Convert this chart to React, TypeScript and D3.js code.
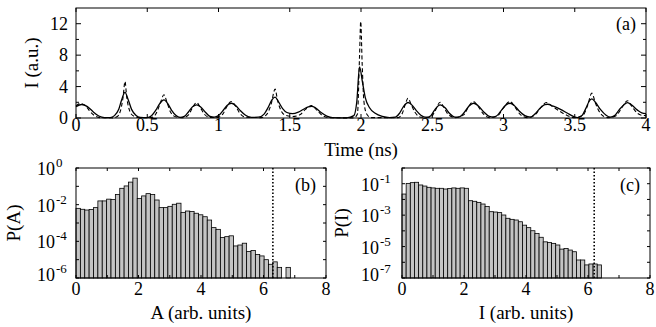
import React from 'react';
import * as d3 from 'd3';

// ---- panel (a): intensity time trace, [time (ns), I (a.u.)] ----
const solidTrace: [number, number][] = [
  [0.0, 1.45], [0.04, 1.72], [0.08, 1.45], [0.12, 0.8], [0.16, 0.25], [0.2, 0.05], [0.24, 0.05],
  [0.27, 0.3], [0.3, 1.1], [0.32, 2.3], [0.344, 3.25], [0.365, 2.4], [0.39, 1.1], [0.42, 0.35],
  [0.45, 0.08], [0.5, 0.05], [0.53, 0.3], [0.56, 1.0], [0.59, 1.9], [0.617, 2.3], [0.645, 1.8],
  [0.67, 1.0], [0.7, 0.35], [0.73, 0.08], [0.76, 0.2], [0.79, 0.8], [0.82, 1.45], [0.847, 1.68],
  [0.875, 1.4], [0.91, 0.7], [0.94, 0.2], [0.97, 0.1], [1.0, 0.3], [1.03, 0.9], [1.06, 1.6],
  [1.09, 1.88], [1.12, 1.6], [1.15, 1.0], [1.19, 0.35], [1.23, 0.08], [1.28, 0.1], [1.32, 0.5],
  [1.35, 1.4], [1.375, 2.3], [1.397, 2.65], [1.42, 2.1], [1.45, 1.2], [1.48, 0.7], [1.52, 0.55],
  [1.56, 0.75], [1.6, 1.15], [1.63, 1.42], [1.654, 1.48], [1.68, 1.3], [1.72, 0.7], [1.76, 0.25],
  [1.8, 0.05], [1.9, 0.02], [1.95, 0.3], [1.97, 2.0], [1.99, 6.5], [2.01, 4.6], [2.03, 2.6],
  [2.06, 1.3], [2.1, 0.6], [2.15, 0.2], [2.2, 0.05], [2.24, 0.1], [2.27, 0.6], [2.3, 1.5],
  [2.33, 1.97], [2.36, 1.6], [2.39, 0.9], [2.42, 0.35], [2.46, 0.08], [2.49, 0.3], [2.52, 1.1],
  [2.555, 1.67], [2.59, 1.3], [2.62, 0.6], [2.66, 0.1], [2.69, 0.15], [2.72, 0.6], [2.76, 1.55],
  [2.79, 1.88], [2.82, 1.6], [2.86, 0.8], [2.9, 0.2], [2.93, 0.1], [2.96, 0.4], [2.99, 1.1],
  [3.02, 1.7], [3.046, 1.88], [3.075, 1.6], [3.11, 0.9], [3.15, 0.3], [3.19, 0.1], [3.22, 0.5],
  [3.26, 1.3], [3.29, 1.7], [3.31, 1.75], [3.35, 1.5], [3.4, 1.1], [3.45, 0.6], [3.49, 0.2],
  [3.52, 0.05], [3.55, 0.3], [3.58, 1.3], [3.6, 2.1], [3.62, 2.43], [3.645, 2.0], [3.68, 1.1],
  [3.72, 0.35], [3.75, 0.1], [3.78, 0.3], [3.81, 1.0], [3.845, 1.7], [3.87, 1.95], [3.9, 1.65],
  [3.94, 1.0], [3.97, 0.65], [4.0, 0.55],
];

const dashedTrace: [number, number][] = [
  [0.0, 1.55], [0.03, 1.85], [0.07, 1.5], [0.1, 0.8], [0.13, 0.3], [0.17, 0.05], [0.26, 0.02],
  [0.29, 0.2], [0.31, 0.8], [0.33, 2.6], [0.344, 4.66], [0.355, 2.8], [0.375, 1.0], [0.4, 0.3],
  [0.44, 0.05], [0.53, 0.05], [0.56, 0.5], [0.59, 1.8], [0.617, 2.95], [0.64, 1.9], [0.665, 0.7],
  [0.7, 0.15], [0.75, 0.05], [0.79, 0.4], [0.82, 1.4], [0.847, 1.97], [0.87, 1.4], [0.9, 0.5],
  [0.94, 0.08], [0.99, 0.05], [1.03, 0.5], [1.06, 1.5], [1.09, 2.1], [1.12, 1.5], [1.15, 0.6],
  [1.19, 0.1], [1.3, 0.05], [1.34, 0.5], [1.37, 1.8], [1.397, 3.67], [1.415, 2.2], [1.44, 0.9],
  [1.47, 0.35], [1.52, 0.2], [1.57, 0.4], [1.61, 1.1], [1.654, 1.6], [1.69, 1.0], [1.73, 0.3],
  [1.78, 0.03], [1.95, 0.02], [1.975, 0.5], [1.99, 8.0], [1.998, 12.3], [2.008, 7.0], [2.02, 2.2],
  [2.04, 0.5], [2.07, 0.05], [2.26, 0.05], [2.29, 0.6], [2.31, 1.7], [2.33, 2.52], [2.35, 1.8],
  [2.38, 0.7], [2.42, 0.1], [2.49, 0.1], [2.52, 0.9], [2.555, 2.0], [2.58, 1.4], [2.61, 0.5],
  [2.66, 0.05], [2.72, 0.4], [2.76, 1.6], [2.79, 2.1], [2.82, 1.5], [2.86, 0.5], [2.9, 0.05],
  [2.96, 0.3], [3.0, 1.3], [3.046, 2.1], [3.08, 1.4], [3.12, 0.4], [3.17, 0.05], [3.22, 0.4],
  [3.27, 1.5], [3.3, 1.97], [3.34, 1.5], [3.4, 0.8], [3.45, 0.3], [3.5, 0.03], [3.56, 0.4],
  [3.59, 1.6], [3.62, 3.16], [3.645, 1.9], [3.68, 0.6], [3.73, 0.05], [3.79, 0.3], [3.83, 1.3],
  [3.87, 2.2], [3.9, 1.5], [3.94, 0.6], [3.97, 0.35], [4.0, 0.3],
];

const timeTicks = [0, 0.5, 1, 1.5, 2, 2.5, 3, 3.5, 4];
const intensityTicks = [0, 4, 8, 12];
const intensityMinor = [2, 6, 10];

// ---- panel (b): amplitude histogram ----
const ampBinWidth = 0.14;
const ampProb = [
  6.3e-3, 5.6e-3, 5.1e-3, 5.4e-3, 6.9e-3, 1.6e-2, 1.6e-2, 2.0e-2, 1.9e-2, 3.6e-2,
  7.8e-2, 1.05e-1, 1.7e-1, 2.8e-1, 2.2e-2, 3.0e-2, 4.0e-2, 3.6e-2, 1.8e-2, 6.9e-3,
  6.9e-3, 8.1e-3, 1.05e-2, 1.2e-2, 3.8e-3, 4.5e-3, 4.2e-3, 3.4e-3, 2.8e-3, 2.2e-3,
  1.45e-3, 5.6e-4, 4.5e-4, 1.6e-4, 1.8e-4, 2.0e-4, 5.6e-5, 6.3e-5, 7.9e-5, 2.8e-5,
  3.2e-5, 1.9e-5, 1.6e-5, 1.0e-5, 5.6e-6, 7.6e-6, 3.8e-6, 0, 3.8e-6,
];
const ampTicks = [0, 2, 4, 6, 8];
const ampDecades = [0, -2, -4, -6];
const ampThreshold = 6.3;

// ---- panel (c): intensity histogram ----
const intBinWidth = 0.134;
const intProb = [
  2.2e-2, 1.05e-1, 1.17e-1, 1.23e-1, 8.3e-2, 7.1e-2, 5.9e-2, 5.4e-2, 5.1e-2, 5.1e-2,
  4.6e-2, 4.9e-2, 5.4e-2, 5.1e-2, 5.4e-2, 5.1e-2, 8.3e-3, 7.6e-3, 6.5e-3, 5.1e-3,
  3.5e-3, 1.66e-3, 1.58e-3, 1.45e-3, 1.02e-3, 6.3e-4, 5.4e-4, 4.9e-4, 3.8e-4, 2.3e-4,
  1.6e-4, 1.02e-4, 6.9e-5, 3.9e-5, 2.0e-5, 1.8e-5, 1.6e-5, 1.26e-5, 6.9e-6, 7.6e-6,
  6.0e-6, 4.7e-6, 1.4e-6, 1.4e-6, 6.8e-7, 7.8e-7, 7.8e-7, 6.8e-7,
];
const intTicks = [0, 2, 4, 6, 8];
const intDecades = [-1, -3, -5, -7];
const intThreshold = 6.2;

const FONT = '"Liberation Serif", "Times New Roman", serif';

function TimePanel() {
  const left = 76, right = 646, top = 8, bottom = 118;
  const x = d3.scaleLinear().domain([0, 4]).range([left, right]);
  const y = d3.scaleLinear().domain([0, 14]).range([bottom, top]);
  const line = d3.line<[number, number]>()
    .x(d => x(d[0]))
    .y(d => y(d[1]))
    .curve(d3.curveMonotoneX);

  return (
    <g>
      <path d={line(dashedTrace) || ''} fill="none" stroke="#000" strokeWidth={1.1} strokeDasharray="4 2.5" />
      <path d={line(solidTrace) || ''} fill="none" stroke="#000" strokeWidth={1.3} />
      <rect x={left} y={top} width={right - left} height={bottom - top} fill="none" stroke="#000" strokeWidth={1} />
      {timeTicks.map(t => (
        <g key={t}>
          <line x1={x(t)} x2={x(t)} y1={bottom} y2={bottom - 4} stroke="#000" />
          <line x1={x(t)} x2={x(t)} y1={top} y2={top + 4} stroke="#000" />
          <text x={x(t)} y={131} textAnchor="middle" fontSize={18}>{t}</text>
        </g>
      ))}
      {intensityTicks.map(v => (
        <g key={v}>
          <line x1={left} x2={left + 5} y1={y(v)} y2={y(v)} stroke="#000" />
          <line x1={right} x2={right - 5} y1={y(v)} y2={y(v)} stroke="#000" />
          <text x={68} y={y(v)} dy="0.33em" textAnchor="end" fontSize={18}>{v}</text>
        </g>
      ))}
      {intensityMinor.map(v => (
        <g key={v}>
          <line x1={left} x2={left + 3} y1={y(v)} y2={y(v)} stroke="#000" />
          <line x1={right} x2={right - 3} y1={y(v)} y2={y(v)} stroke="#000" />
        </g>
      ))}
      <text x={636} y={30} textAnchor="end" fontSize={18}>(a)</text>
      <text x={361} y={156} textAnchor="middle" fontSize={19}>Time (ns)</text>
      <text transform={`translate(38,${(top + bottom) / 2}) rotate(-90)`} textAnchor="middle" fontSize={19}>I (a.u.)</text>
    </g>
  );
}

interface HistProps {
  probs: number[];
  binWidth: number;
  ticks: number[];
  decades: number[];
  minExp: number;
  threshold: number;
  left: number;
  right: number;
  tenRight: number;
  tag: string;
  xTitle: string;
  yTitle: string;
  yTitleX: number;
}

function HistPanel(p: HistProps) {
  const top = 168, bottom = 278;
  const x = d3.scaleLinear().domain([0, 8]).range([p.left, p.right]);
  const y = d3.scaleLog().domain([Math.pow(10, p.minExp), 1]).range([bottom, top]);
  const allDecades = d3.range(p.minExp, 1);
  const minorX = d3.range(0, 9);

  return (
    <g>
      {p.probs.map((v, i) => v > 0 && (
        <rect key={i}
          x={x(i * p.binWidth)} width={x((i + 1) * p.binWidth) - x(i * p.binWidth)}
          y={y(v)} height={bottom - y(v)}
          fill="#c4c4c4" stroke="#000" strokeWidth={0.8} />
      ))}
      <line x1={x(p.threshold)} x2={x(p.threshold)} y1={top} y2={bottom}
        stroke="#000" strokeWidth={1.6} strokeDasharray="1.5 2" />
      <rect x={p.left} y={top} width={p.right - p.left} height={bottom - top} fill="none" stroke="#000" strokeWidth={1} />
      {minorX.map(t => (
        <g key={t}>
          <line x1={x(t)} x2={x(t)} y1={bottom} y2={bottom - 3} stroke="#000" />
          <line x1={x(t)} x2={x(t)} y1={top} y2={top + 3} stroke="#000" />
        </g>
      ))}
      {p.ticks.map(t => (
        <text key={t} x={x(t)} y={295} textAnchor="middle" fontSize={18}>{t}</text>
      ))}
      {allDecades.map(e => (
        <g key={e}>
          <line x1={p.left} x2={p.left + 3} y1={y(Math.pow(10, e))} y2={y(Math.pow(10, e))} stroke="#000" />
          <line x1={p.right} x2={p.right - 3} y1={y(Math.pow(10, e))} y2={y(Math.pow(10, e))} stroke="#000" />
        </g>
      ))}
      {p.decades.map((e, i) => (
        <g key={e}>
          <text x={p.tenRight} y={y(Math.pow(10, e)) + (i === p.decades.length - 1 ? 3 : 7)} textAnchor="end" fontSize={18}>10</text>
          <text x={p.tenRight + 1} y={y(Math.pow(10, e)) + (i === p.decades.length - 1 ? -5 : -1)} fontSize={13}>{e === 0 ? '0' : `-${-e}`}</text>
        </g>
      ))}
      <text x={p.right - 10} y={191} textAnchor="end" fontSize={18}>{p.tag}</text>
      <text x={(p.left + p.right) / 2} y={319} textAnchor="middle" fontSize={19}>{p.xTitle}</text>
      <text transform={`translate(${p.yTitleX},${(top + bottom) / 2}) rotate(-90)`} textAnchor="middle" fontSize={19}>{p.yTitle}</text>
    </g>
  );
}

export default function App() {
  return (
    <svg width={656} height={327} style={{ position: 'absolute', left: 0, top: 0, background: '#fff' }}
      fontFamily={FONT}>
      <TimePanel />
      <HistPanel probs={ampProb} binWidth={ampBinWidth} ticks={ampTicks} decades={ampDecades}
        minExp={-6} threshold={ampThreshold} left={76} right={326} tenRight={55}
        tag="(b)" xTitle="A (arb. units)" yTitle="P(A)" yTitleX={20} />
      <HistPanel probs={intProb} binWidth={intBinWidth} ticks={intTicks} decades={intDecades}
        minExp={-7} threshold={intThreshold} left={402} right={650} tenRight={379}
        tag="(c)" xTitle="I (arb. units)" yTitle="P(I)" yTitleX={348} />
    </svg>
  );
}
